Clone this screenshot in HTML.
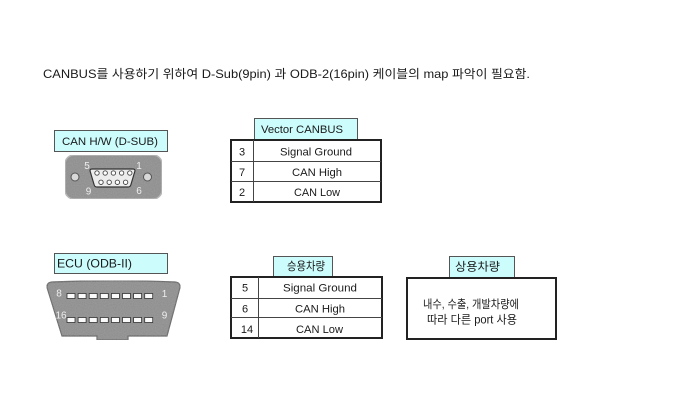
<!DOCTYPE html>
<html>
<head>
<meta charset="utf-8">
<style>
html,body{margin:0;padding:0;background:#fff;}
body{width:676px;height:403px;overflow:hidden;}
svg{display:block;}
text{font-family:"Liberation Sans","Noto Sans CJK KR",sans-serif;fill:#1a1a1a;}
</style>
</head>
<body>
<svg width="676" height="403" viewBox="0 0 676 403" xmlns="http://www.w3.org/2000/svg">
  <defs>
    <filter id="grain" x="0" y="0" width="100%" height="100%">
      <feTurbulence type="fractalNoise" baseFrequency="0.9" numOctaves="2" seed="3" result="n"/>
      <feColorMatrix in="n" type="matrix" values="0 0 0 0 0.5  0 0 0 0 0.5  0 0 0 0 0.5  0 0 0 0.35 0" result="g"/>
      <feComposite in="g" in2="SourceGraphic" operator="in" result="gc"/>
      <feMerge><feMergeNode in="SourceGraphic"/><feMergeNode in="gc"/></feMerge>
    </filter>
  </defs>
  <rect x="0" y="0" width="676" height="403" fill="#ffffff"/>

  <!-- Title -->
  <text x="43" y="78" font-size="12" textLength="487" lengthAdjust="spacingAndGlyphs">CANBUS를 사용하기 위하여 D-Sub(9pin) 과 ODB-2(16pin) 케이블의 map 파악이 필요함.</text>

  <!-- CAN H/W label -->
  <rect x="54.5" y="130.5" width="113" height="21" fill="#ccfcfc" stroke="#555" stroke-width="1"/>
  <text x="62" y="145" font-size="11" textLength="96" lengthAdjust="spacingAndGlyphs">CAN H/W (D-SUB)</text>

  <!-- D-SUB connector -->
  <rect x="65" y="155" width="97" height="44" rx="9" ry="9" fill="#8a8a8a" stroke="#b5b5b5" stroke-width="1.5" filter="url(#grain)"/>
  <circle cx="75" cy="177" r="4" fill="#d8d8d8" stroke="#555" stroke-width="1"/>
  <circle cx="147.5" cy="177" r="4" fill="#d8d8d8" stroke="#555" stroke-width="1"/>
  <path d="M92,169 L133,169 Q135.5,169 134.8,171.5 L130.8,185 Q130.2,187 128,187 L97,187 Q94.8,187 94.2,185 L90.2,171.5 Q89.5,169 92,169 Z" fill="#ececec" stroke="#333" stroke-width="1.2"/>
  <g fill="#fff" stroke="#444" stroke-width="0.9">
    <circle cx="97" cy="173" r="2.2"/>
    <circle cx="105.2" cy="173" r="2.2"/>
    <circle cx="113.4" cy="173" r="2.2"/>
    <circle cx="121.6" cy="173" r="2.2"/>
    <circle cx="129.8" cy="173" r="2.2"/>
    <circle cx="101" cy="182.3" r="2.2"/>
    <circle cx="109.2" cy="182.3" r="2.2"/>
    <circle cx="117.4" cy="182.3" r="2.2"/>
    <circle cx="125.6" cy="182.3" r="2.2"/>
  </g>
  <g font-size="10" text-anchor="middle">
    <text x="87" y="169" style="fill:#eeeeee">5</text>
    <text x="139" y="169" style="fill:#eeeeee">1</text>
    <text x="88.5" y="194.5" style="fill:#eeeeee">9</text>
    <text x="139" y="194" style="fill:#eeeeee">6</text>
  </g>

  <!-- Vector CANBUS table -->
  <rect x="254.5" y="118.5" width="103" height="21" fill="#ccfcfc" stroke="#555" stroke-width="1"/>
  <text x="261" y="133" font-size="11" textLength="82" lengthAdjust="spacingAndGlyphs">Vector CANBUS</text>
  <rect x="231" y="140" width="150" height="62" fill="#fff" stroke="#222" stroke-width="2"/>
  <line x1="231" y1="161.5" x2="381" y2="161.5" stroke="#444" stroke-width="1"/>
  <line x1="231" y1="181.5" x2="381" y2="181.5" stroke="#444" stroke-width="1"/>
  <line x1="253.5" y1="140" x2="253.5" y2="202" stroke="#444" stroke-width="1"/>
  <g font-size="11">
    <text x="242" y="155.5" text-anchor="middle">3</text>
    <text x="242" y="176" text-anchor="middle">7</text>
    <text x="242" y="196" text-anchor="middle">2</text>
    <text x="280" y="155.5" textLength="72" lengthAdjust="spacingAndGlyphs">Signal Ground</text>
    <text x="292" y="176" textLength="50" lengthAdjust="spacingAndGlyphs">CAN High</text>
    <text x="294" y="196" textLength="46" lengthAdjust="spacingAndGlyphs">CAN Low</text>
  </g>

  <!-- ECU label -->
  <rect x="54.5" y="253.5" width="113" height="20" fill="#ccfcfc" stroke="#555" stroke-width="1"/>
  <text x="57" y="267.5" font-size="12" textLength="75" lengthAdjust="spacingAndGlyphs">ECU (ODB-II)</text>

  <!-- OBD-II connector -->
  <path d="M52,282 Q113,279.5 175,282 Q180.5,282.5 180,287.5 L167,336 L128,336 L128,340 L97,340 L97,336 L62,336 L47,287.5 Q46.5,282.5 52,282 Z" fill="#8a8a8a" stroke="#5a5a5a" stroke-width="1.2" filter="url(#grain)"/>
  <g fill="#fafafa" stroke="#333" stroke-width="0.8">
    <rect x="67" y="293.5" width="8" height="5"/>
    <rect x="78.1" y="293.5" width="8" height="5"/>
    <rect x="89.2" y="293.5" width="8" height="5"/>
    <rect x="100.3" y="293.5" width="8" height="5"/>
    <rect x="111.4" y="293.5" width="8" height="5"/>
    <rect x="122.5" y="293.5" width="8" height="5"/>
    <rect x="133.6" y="293.5" width="8" height="5"/>
    <rect x="144.7" y="293.5" width="8" height="5"/>
    <rect x="67" y="317.5" width="8" height="5"/>
    <rect x="78.1" y="317.5" width="8" height="5"/>
    <rect x="89.2" y="317.5" width="8" height="5"/>
    <rect x="100.3" y="317.5" width="8" height="5"/>
    <rect x="111.4" y="317.5" width="8" height="5"/>
    <rect x="122.5" y="317.5" width="8" height="5"/>
    <rect x="133.6" y="317.5" width="8" height="5"/>
    <rect x="144.7" y="317.5" width="8" height="5"/>
  </g>
  <g font-size="10" text-anchor="middle">
    <text x="59" y="296.5" style="fill:#eeeeee">8</text>
    <text x="164.5" y="297" style="fill:#eeeeee">1</text>
    <text x="61" y="318.5" style="fill:#eeeeee">16</text>
    <text x="164.5" y="318.5" style="fill:#eeeeee">9</text>
  </g>

  <!-- 승용차량 table -->
  <rect x="273.5" y="256.5" width="59" height="21" fill="#ccfcfc" stroke="#555" stroke-width="1"/>
  <text x="287" y="270" font-size="11.5" textLength="38" lengthAdjust="spacingAndGlyphs">승용차량</text>
  <rect x="231" y="277" width="151" height="61" fill="#fff" stroke="#222" stroke-width="2"/>
  <line x1="231" y1="298.5" x2="382" y2="298.5" stroke="#444" stroke-width="1"/>
  <line x1="231" y1="317.5" x2="382" y2="317.5" stroke="#444" stroke-width="1"/>
  <line x1="258.5" y1="277" x2="258.5" y2="338" stroke="#444" stroke-width="1"/>
  <g font-size="11">
    <text x="245" y="291.5" text-anchor="middle">5</text>
    <text x="245" y="312.5" text-anchor="middle">6</text>
    <text x="247" y="333" text-anchor="middle">14</text>
    <text x="283" y="291.5" textLength="74" lengthAdjust="spacingAndGlyphs">Signal Ground</text>
    <text x="295" y="312.5" textLength="50" lengthAdjust="spacingAndGlyphs">CAN High</text>
    <text x="296" y="333" textLength="47" lengthAdjust="spacingAndGlyphs">CAN Low</text>
  </g>

  <!-- 상용차량 box -->
  <rect x="449.5" y="256.5" width="65" height="21" fill="#ccfcfc" stroke="#555" stroke-width="1"/>
  <text x="455" y="270.5" font-size="11.5" textLength="45" lengthAdjust="spacingAndGlyphs">상용차량</text>
  <rect x="407" y="278" width="149" height="61" fill="#fff" stroke="#222" stroke-width="2"/>
  <text x="423" y="308" font-size="11.5" textLength="96" lengthAdjust="spacingAndGlyphs">내수, 수출, 개발차량에</text>
  <text x="427" y="323.5" font-size="11.5" textLength="90" lengthAdjust="spacingAndGlyphs">따라 다른 port 사용</text>
</svg>
</body>
</html>
